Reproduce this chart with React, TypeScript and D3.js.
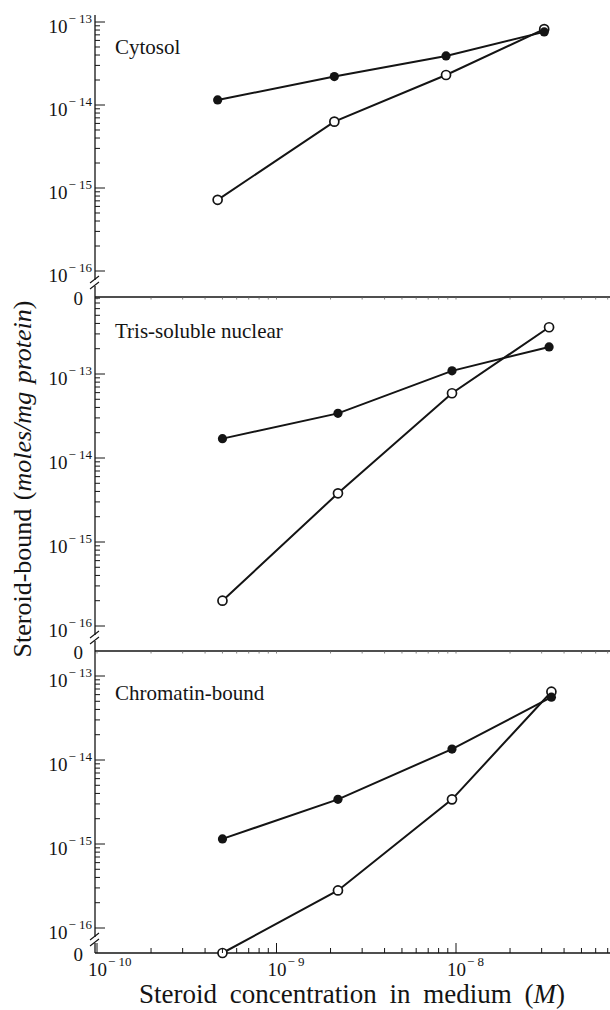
import * as d3 from "d3";
import { useEffect, useRef } from "react";

// steroid concentration in medium (M), read per panel
const concCytosol = [4.7e-10, 2.1e-9, 8.8e-9, 3.1e-8];
const concNuclear = [5.0e-10, 2.2e-9, 9.5e-9, 3.3e-8];
const concChromatin = [5.0e-10, 2.2e-9, 9.5e-9, 3.4e-8];

// steroid bound (moles/mg protein); 0 sits on the broken "0" baseline
const filledCytosol = [1.15e-14, 2.2e-14, 3.9e-14, 7.6e-14];
const openCytosol = [7.2e-16, 6.3e-15, 2.3e-14, 8.2e-14];
const filledNuclear = [1.7e-14, 3.4e-14, 1.09e-13, 2.1e-13];
const openNuclear = [2.0e-16, 3.8e-15, 5.9e-14, 3.6e-13];
const filledChromatin = [1.15e-15, 3.4e-15, 1.35e-14, 5.6e-14];
const openChromatin = [0, 2.8e-16, 3.4e-15, 6.5e-14];

const panelNames = ["Cytosol", "Tris-soluble nuclear", "Chromatin-bound"];
const yExponents = [-16, -15, -14, -13];
const xExponents = [-10, -9, -8];

const W = 610;
const H = 1010;
const FONT = "'Liberation Serif', 'Times New Roman', serif";
const INK = "#141414";

const App = () => {
  const ref = useRef<SVGSVGElement>(null);

  useEffect(() => {
    const svg = d3.select(ref.current);
    svg.selectAll("*").remove();

    const axisX = 95;
    const x = d3.scaleLog().domain([1e-10, Math.pow(10, -10 + 513 / 179.5)]).range([97, W]);

    // panel frames: top of axis, pixel of 1e-16, pixel of 1e-13, zero line
    const layout = [
      { top: 15, lo: 271, hi: 22, zero: 297, labelY: 54 },
      { top: 297, lo: 626, hi: 374, zero: 651, labelY: 338 },
      { top: 651, lo: 928, hi: 676, zero: 953, labelY: 700 },
    ];
    const panels = [
      { conc: concCytosol, filled: filledCytosol, open: openCytosol },
      { conc: concNuclear, filled: filledNuclear, open: openNuclear },
      { conc: concChromatin, filled: filledChromatin, open: openChromatin },
    ];

    const g = svg.append("g").attr("font-family", FONT).attr("fill", INK);

    // x tick positions 1..9 x 10^n
    const xTicks: { v: number; major: boolean }[] = [];
    for (let e = -10; e <= -8; e++) {
      for (let k = 1; k <= 9; k++) {
        const v = k * Math.pow(10, e);
        if (x(v) <= W) xTicks.push({ v, major: k === 1 });
      }
    }

    layout.forEach((L, i) => {
      const y = d3.scaleLog().domain([1e-16, 1e-13]).range([L.lo, L.hi]);
      const brk = L.lo + 12;

      // y axis with break
      g.append("line").attr("x1", axisX).attr("x2", axisX).attr("y1", L.top).attr("y2", brk - 3)
        .attr("stroke", INK).attr("stroke-width", 1.3);
      g.append("line").attr("x1", axisX).attr("x2", axisX).attr("y1", brk + 3).attr("y2", L.zero)
        .attr("stroke", INK).attr("stroke-width", 1.3);
      [-3, 3].forEach((o) => {
        g.append("line")
          .attr("x1", axisX - 5).attr("y1", brk + o + 3)
          .attr("x2", axisX + 4).attr("y2", brk + o - 4)
          .attr("stroke", INK).attr("stroke-width", 1.1);
      });

      // y ticks
      for (let e = -16; e <= -13; e++) {
        for (let k = 1; k <= 9; k++) {
          const v = k * Math.pow(10, e);
          const py = y(v);
          if (py < L.top + 1 || py > L.lo + 0.5) continue;
          g.append("line").attr("x1", axisX).attr("x2", axisX + (k === 1 ? 10 : 5))
            .attr("y1", py).attr("y2", py).attr("stroke", INK).attr("stroke-width", 1);
        }
      }
      yExponents.forEach((e) => {
        const py = y(Math.pow(10, e));
        if (py < L.top) return;
        const t = g.append("text").attr("x", 92).attr("y", py + 11)
          .attr("text-anchor", "end").attr("font-size", 19).text("10");
        t.append("tspan").attr("dx", 1).attr("dy", -10).attr("font-size", 13).text("\u2212 " + Math.abs(e));
      });
      g.append("text").attr("x", 83).attr("y", L.zero + 8).attr("text-anchor", "end")
        .attr("font-size", 19).text("0");

      // zero baseline
      g.append("line").attr("x1", axisX).attr("x2", W).attr("y1", L.zero).attr("y2", L.zero)
        .attr("stroke", INK).attr("stroke-width", 1.3);
      if (i < 2) {
        xTicks.forEach((t) => {
          g.append("line").attr("x1", x(t.v)).attr("x2", x(t.v))
            .attr("y1", L.zero).attr("y2", L.zero + 2.5)
            .attr("stroke", "#666").attr("stroke-width", 0.8);
        });
      }

      // panel label
      g.append("text").attr("x", 115).attr("y", L.labelY).attr("font-size", 21).text(panelNames[i]);

      // series
      const P = panels[i];
      const yv = (v: number) => (v <= 0 ? L.zero : y(v));
      const line = d3.line<number>().x((_, j) => x(P.conc[j])).y((v) => yv(v));
      [P.filled, P.open].forEach((s) => {
        g.append("path").attr("d", line(s)).attr("fill", "none")
          .attr("stroke", INK).attr("stroke-width", 2);
      });
      g.selectAll(null).data(P.open).join("circle")
        .attr("cx", (_, j) => x(P.conc[j])).attr("cy", (v) => yv(v)).attr("r", 4.5)
        .attr("fill", "#fff").attr("stroke", INK).attr("stroke-width", 1.7);
      g.selectAll(null).data(P.filled).join("circle")
        .attr("cx", (_, j) => x(P.conc[j])).attr("cy", (v) => yv(v)).attr("r", 4.6)
        .attr("fill", INK);
    });

    // bottom x axis ticks and labels
    const base = layout[2].zero;
    xTicks.forEach((t) => {
      g.append("line").attr("x1", x(t.v)).attr("x2", x(t.v))
        .attr("y1", base).attr("y2", base - (t.major ? 10 : 5))
        .attr("stroke", INK).attr("stroke-width", 1);
    });
    xExponents.forEach((e) => {
      const px = x(Math.pow(10, e));
      const t = g.append("text").attr("x", px - 9).attr("y", base + 23).attr("font-size", 19).text("10");
      t.append("tspan").attr("dx", 1).attr("dy", -10).attr("font-size", 13).text("\u2212 " + Math.abs(e));
    });

    // axis titles
    const xt = g.append("text").attr("x", 352).attr("y", 1003).attr("text-anchor", "middle")
      .attr("font-size", 27).attr("word-spacing", 6).text("Steroid concentration in medium (");
    xt.append("tspan").attr("font-style", "italic").text("M");
    xt.append("tspan").text(")");

    const yt = g.append("text").attr("transform", "translate(30.5,479) rotate(-90)")
      .attr("text-anchor", "middle").attr("font-size", 26).attr("word-spacing", 2).text("Steroid-bound (");
    yt.append("tspan").attr("font-style", "italic").text("moles/mg protein");
    yt.append("tspan").text(")");
  }, []);

  return (
    <div style={{ position: "absolute", left: 0, top: 0 }}>
      <svg width={W} height={H} ref={ref} style={{ display: "block", background: "#fff" }} />
    </div>
  );
};

export default App;
